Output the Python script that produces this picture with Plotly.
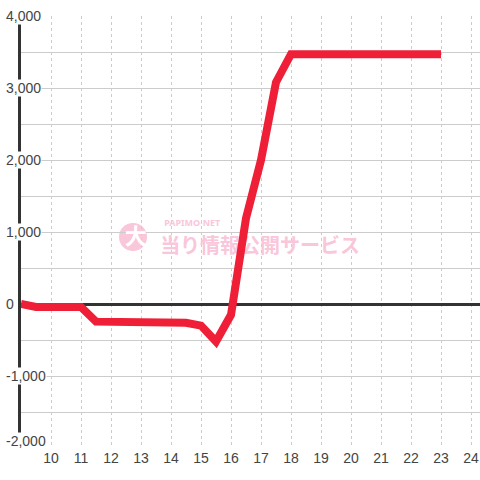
import plotly.graph_objects as go

# ---- data ----
x_vals = [9, 9.5, 10, 10.5, 11, 11.5, 12, 12.5, 13, 13.5, 14, 14.5, 15, 15.5,
          16, 16.5, 17, 17.5, 18, 18.5, 19, 19.5, 20, 20.5, 21, 21.5, 22, 22.5, 23]
y_vals = [0, -40, -40, -40, -40, -245, -245, -248, -255, -255, -258, -262, -300, -520,
          -150, 1190, 2000, 3080, 3470, 3470, 3470, 3470, 3470, 3470, 3470, 3470, 3470, 3470, 3470]

x_ticks = [10, 11, 12, 13, 14, 15, 16, 17, 18, 19, 20, 21, 22, 23, 24]
y_ticks = [4000, 3000, 2000, 1000, 0, -1000, -2000]
y_tick_labels = ["4,000", "3,000", "2,000", "1,000", "0", "-1,000", "-2,000"]

x_range = [9, 24.3]
y_range = [-2000, 4000]

RED = "#ee1f36"
PINK = "#f9c6da"
TXT = "#444444"
FONT = "Liberation Sans, Arial, sans-serif"


def fx(f):
    return x_range[0] + f * (x_range[1] - x_range[0])


def fy(f):
    return y_range[0] + f * (y_range[1] - y_range[0])


fig = go.Figure()

# watermark (drawn below the data line)
fig.add_trace(go.Scatter(
    x=[fx(0.521)], y=[fy(0.464)], mode="text", text=["当り情報公開サービス"],
    textfont=dict(family="Noto Sans CJK JP", size=20, color=PINK, weight="bold"),
    hoverinfo="skip", showlegend=False, cliponaxis=False))
fig.add_trace(go.Scatter(
    x=[fx(0.373)], y=[fy(0.519)], mode="text", text=["PAPIMO·NET"],
    textfont=dict(family="Noto Sans", size=9, color=PINK, weight="bold"),
    hoverinfo="skip", showlegend=False, cliponaxis=False))
fig.add_trace(go.Scatter(
    x=[fx(0.25)], y=[fy(0.485)], mode="text", text=["大"],
    textfont=dict(family="Noto Sans CJK JP", size=22, color="white", weight="bold"),
    hoverinfo="skip", showlegend=False, cliponaxis=False))

# data line
fig.add_trace(go.Scatter(
    x=x_vals, y=y_vals, mode="lines",
    line=dict(color=RED, width=8),
    hoverinfo="skip", showlegend=False, cliponaxis=False))

fig.add_shape(type="circle", xref="paper", yref="paper",
              x0=98 / 459, x1=126 / 459, y0=197 / 432, y1=225 / 432,
              fillcolor=PINK, line=dict(width=0), layer="between")

# y tick labels with white backing (cover axis line and grid)
for v, lab in zip(y_ticks, y_tick_labels):
    bottom = v == y_range[0]
    fig.add_annotation(
        xref="paper", yref="y", x=0, y=v, text=lab, showarrow=False,
        xanchor="left", yanchor="bottom" if bottom else "middle",
        xshift=-16, yshift=-2 if bottom else 0,
        bgcolor="white", borderpad=0,
        font=dict(family=FONT, size=14, color=TXT))

fig.update_layout(
    width=480, height=480, autosize=False,
    margin=dict(l=21, r=0, t=16, b=32),
    paper_bgcolor="white", plot_bgcolor="white",
    showlegend=False,
    xaxis=dict(range=x_range, tickvals=x_ticks, ticktext=[str(t) for t in x_ticks],
               showgrid=True, gridcolor="#cccccc", gridwidth=1, griddash="3px,3px",
               zeroline=False, showline=False, ticks="", automargin=False,
               tickfont=dict(family=FONT, size=14, color=TXT), fixedrange=True),
    yaxis=dict(range=y_range, dtick=500, tick0=0, showticklabels=False,
               showgrid=True, gridcolor="#cccccc", gridwidth=1,
               zeroline=True, zerolinecolor="#333333", zerolinewidth=3,
               showline=True, linecolor="#333333", linewidth=3, automargin=False,
               layer="below traces", ticks="", fixedrange=True),
)

fig.write_html(
    "out.html",
    config={"displayModeBar": False},
    post_script="document.body.style.margin='0';document.body.style.overflow='hidden';",
)
